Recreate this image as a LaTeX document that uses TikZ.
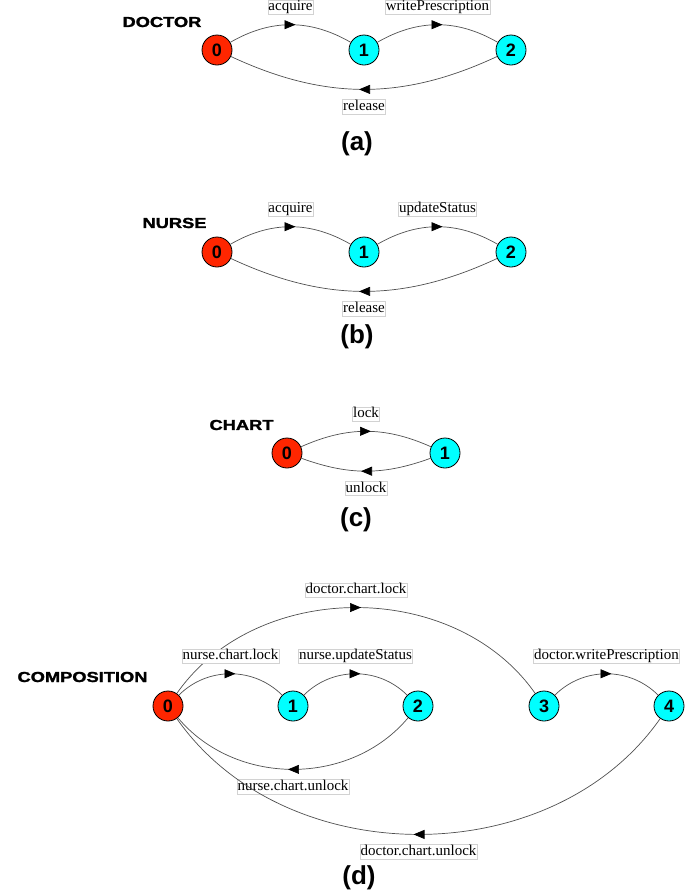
\documentclass[tikz,border=0pt]{standalone}
\usepackage{fontspec}
\setmainfont{Liberation Serif}
\setsansfont{Liberation Sans}
\newfontfamily\heavyfont[UprightFont={* Bold},FakeBold=1.6]{Liberation Sans}
\usetikzlibrary{arrows.meta,decorations.markings}
\definecolor{stred}{RGB}{255,38,0}
\definecolor{stcyan}{RGB}{0,255,255}
\definecolor{edgegray}{RGB}{80,80,80}
\tikzset{
  st/.style={circle,draw,line width=0.8pt,minimum size=30pt,inner sep=0pt,
    font=\sffamily\bfseries\fontsize{18}{18}\selectfont},
  st0/.style={st,fill=stred},
  st1/.style={st,fill=stcyan},
  tr/.style={draw=edgegray,line width=0.7pt,postaction={decorate},
    decoration={markings,mark=at position 0.5 with
      {\pgftransformxshift{5pt}\arrow{Triangle[length=11pt,width=9pt,color=black]}}}},
  lbl/.style={draw=gray!35,line width=0.5pt,fill=white,inner sep=0.6pt,
    text height=10pt,text depth=3pt,font=\fontsize{15}{15}\selectfont},
  ttl/.style={anchor=west,font=\heavyfont\fontsize{14.5}{14.5}\selectfont},
  captxt/.style={font=\sffamily\bfseries\fontsize{26}{26}\selectfont}
}
\begin{document}
\begin{tikzpicture}[x=1pt,y=1pt]
\useasboundingbox (0,0) rectangle (699,-892);
% (a) doctor
\node[ttl] (ttla) at (119,-22) {\scalebox{1.26}[1]{DOCTOR}};
\node[st0] (a0) at (217,-50) {0};
\node[st1] (a1) at (364,-50) {1};
\node[st1] (a2) at (511,-50) {2};
\draw[tr] (a0) to[bend left=30] node[lbl,above=10pt]{acquire} (a1);
\draw[tr] (a1) to[bend left=30] node[lbl,above=10pt]{writePrescription} (a2);
\draw[tr] (a2) to[bend left=25] node[lbl,below=10pt]{release} (a0);
\node[captxt] (capa) at (357,-144) {(a)};
% (b) nurse
\node[ttl] (ttlb) at (139,-223) {\scalebox{1.26}[1]{NURSE}};
\node[st0] (b0) at (217,-252) {0};
\node[st1] (b1) at (364,-252) {1};
\node[st1] (b2) at (511,-252) {2};
\draw[tr] (b0) to[bend left=30] node[lbl,above=10pt]{acquire} (b1);
\draw[tr] (b1) to[bend left=30] node[lbl,above=10pt]{updateStatus} (b2);
\draw[tr] (b2) to[bend left=25] node[lbl,below=10pt]{release} (b0);
\node[captxt] (capb) at (357,-337) {(b)};
% (c) chart
\node[ttl] (ttlc) at (206,-425) {\scalebox{1.26}[1]{CHART}};
\node[st0] (c0) at (287,-453) {0};
\node[st1] (c1) at (445,-453) {1};
\draw[tr] (c0) to[bend left=24] node[lbl,above=10pt]{lock} (c1);
\draw[tr] (c1) to[bend left=20] node[lbl,below=10pt]{unlock} (c0);
\node[captxt] (capc) at (356,-520) {(c)};
% (d) composition
\node[ttl] (ttld) at (14,-677) {\scalebox{1.26}[1]{COMPOSITION}};
\node[st0] (d0) at (168,-706) {0};
\node[st1] (d1) at (293,-706) {1};
\node[st1] (d2) at (418,-706) {2};
\node[st1] (d3) at (544,-706) {3};
\node[st1] (d4) at (669,-706) {4};
\draw[tr] (d0) to[bend left=55] node[lbl,above=10pt]{doctor.chart.lock} (d3);
\draw[tr] (d0) to[bend left=45] node[lbl,above=10pt]{nurse.chart.lock} (d1);
\draw[tr] (d1) to[bend left=45] node[lbl,above=10pt]{nurse.updateStatus} (d2);
\draw[tr] (d3) to[bend left=45] node[lbl,above=10pt]{doctor.writePrescription} (d4);
\draw[tr] (d2) to[bend left=50] node[lbl,below=10pt]{nurse.chart.unlock} (d0);
\draw[tr] (d4) to[bend left=55] node[lbl,below=10pt]{doctor.chart.unlock} (d0);
\node[captxt] (capd) at (359,-878) {(d)};
\end{tikzpicture}
\end{document}
